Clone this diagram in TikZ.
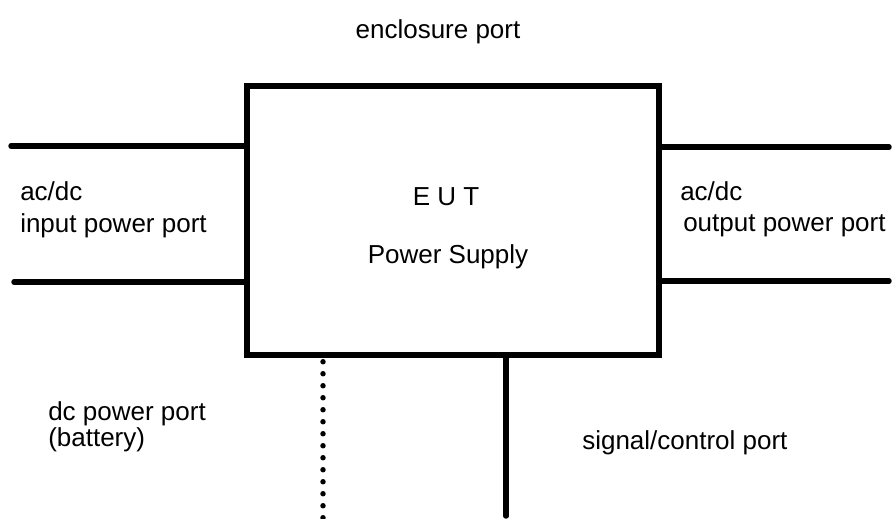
\documentclass[tikz,border=0pt]{standalone}
\usepackage{fontspec}
\setmainfont{Liberation Sans}
\begin{document}
\begin{tikzpicture}[x=0.75pt,y=-0.75pt,
  wire/.style={line width=4.1pt,line cap=round},
  dotwire/.style={line width=4.1pt,line cap=round,dash pattern=on 0pt off 9pt},
  lbl/.style={inner sep=0pt,anchor=base west,font=\fontsize{19.5pt}{23pt}\selectfont},
  clbl/.style={inner sep=0pt,anchor=base,font=\fontsize{19.5pt}{23pt}\selectfont}]
\useasboundingbox (0,0) rectangle (892,518);
\node[draw,line width=4.1pt,minimum width=309pt,minimum height=201.75pt,inner sep=0pt] (box) at (453,220.5) {};
% free ends
\coordinate (lt) at (11,146);
\coordinate (lb) at (14,282);
\coordinate (rt) at (889,147);
\coordinate (rb) at (889,281);
\coordinate (db) at (323,518);
\coordinate (sb) at (506,516);
\draw[wire] (lt) -- (box.west |- lt);
\draw[wire] (lb) -- (box.west |- lb);
\draw[wire] (box.east |- rt) -- (rt);
\draw[wire] (box.east |- rb) -- (rb);
\draw[dotwire] (box.south -| db) ++(0,4) -- (db);
\draw[wire] (box.south -| sb) -- (sb);
% labels
\node[clbl] (encl) at (438,38) {enclosure port};
\node[lbl] (inA) at (20,200) {ac/dc};
\node[lbl] (inB) at (20,232) {input power port};
\node[lbl] (outA) at (680,200) {ac/dc};
\node[lbl] (outB) at (683,231) {output power port};
\node[clbl] (eut) at (446,205) {E U T};
\node[clbl] (ps) at (448,263) {Power Supply};
\node[lbl] (dcA) at (48,420) {dc power port};
\node[lbl] (dcB) at (48,446) {(battery)};
\node[lbl] (sig) at (582,449) {signal/control port};
\end{tikzpicture}
\end{document}
